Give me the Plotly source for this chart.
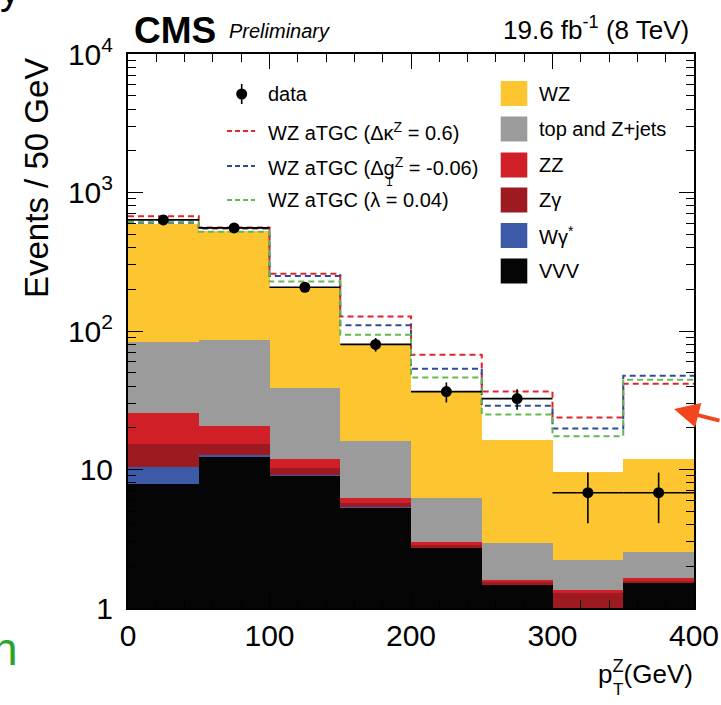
import plotly.graph_objects as go

# ---------------- data ----------------
bin_edges = [0, 50, 100, 150, 200, 250, 300, 350, 400]
bin_centers = [25, 75, 125, 175, 225, 275, 325, 375]

vvv = [7.9, 12.5, 9.1, 5.3, 2.74, 1.49, 0.8, 1.53]
wgamma_star = [2.5, 0.2, 0.1, 0.02, 0.01, 0.0, 0.0, 0.0]
zgamma = [4.8, 2.7, 1.1, 0.4, 0.08, 0.04, 0.49, 0.04]
zz = [10.5, 5.3, 1.6, 0.5, 0.18, 0.06, 0.05, 0.07]
top_zjets = [57.3, 65.1, 26.8, 9.9, 3.2, 1.36, 0.89, 0.91]
wz = [510, 444, 166, 65, 29.8, 13.5, 7.3, 9.45]

atgc_kappa = [675, 560, 259, 127, 67.5, 36.6, 23.7, 41.6]
atgc_g1 = [605, 550, 250, 110, 53.4, 28.8, 19.8, 47.5]
atgc_lambda = [615, 520, 228, 94, 46.2, 25.0, 17.4, 44.5]

data_vals = [634, 555, 207, 80, 36.5, 32.5, 6.8, 6.8]
data_err = [25, 24, 14, 9, 6, 5.5, 2.7, 2.7]

ytick_vals = [1, 10, 100, 1000, 10000]
ytick_text = ["1", "10", "10<sup>2</sup>", "10<sup>3</sup>", "10<sup>4</sup>"]
xtick_vals = [0, 100, 200, 300, 400]

# ---------------- styles ----------------
FONT = "Liberation Sans, Arial, Helvetica, sans-serif"
C_WZ = "#fdc52f"
C_TOP = "#9b9b9b"
C_ZZ = "#d01f27"
C_ZG = "#9c1a20"
C_WG = "#3c5aa8"
C_VVV = "#050505"
C_RED = "#e0252b"
C_BLUE = "#2d4b9a"
C_GREEN = "#63b94f"

W, H = 721, 705
ML, MR, MT, MB = 128, 27, 54, 97
PW = W - ML - MR
PH = H - MT - MB


def px(x):
    return (x - ML) / PW


def py(y):
    return (H - MB - y) / PH


fig = go.Figure()

stack = [
    ("VVV", vvv, C_VVV),
    ("Wγ*", wgamma_star, C_WG),
    ("Zγ", zgamma, C_ZG),
    ("ZZ", zz, C_ZZ),
    ("top and Z+jets", top_zjets, C_TOP),
    ("WZ", wz, C_WZ),
]
for name, vals, col in stack:
    fig.add_trace(go.Bar(
        x=bin_centers, y=vals, width=[50] * len(bin_centers), name=name,
        marker=dict(color=col, line=dict(width=0)), showlegend=False,
    ))

for vals, col in [(atgc_kappa, C_RED), (atgc_g1, C_BLUE), (atgc_lambda, C_GREEN)]:
    fig.add_trace(go.Scatter(
        x=bin_edges, y=vals + [vals[-1]], mode="lines", line_shape="hv",
        line=dict(color=col, width=2, dash="6px,4px"), showlegend=False,
    ))

fig.add_trace(go.Scatter(
    x=bin_centers, y=data_vals, mode="markers",
    marker=dict(color="black", size=11),
    error_y=dict(type="data", array=data_err, color="black", thickness=1.6, width=0),
    error_x=dict(type="constant", value=25, color="black", thickness=1.6, width=0),
    showlegend=False,
))

shapes = []
annotations = []


def text(x, y, t, size, xanchor="left", yanchor="middle", color="black", **kw):
    annotations.append(dict(x=px(x), y=py(y), xref="paper", yref="paper", text=t,
                            showarrow=False, xanchor=xanchor, yanchor=yanchor,
                            font=dict(family=FONT, size=size, color=color), **kw))


# ---------- legend (left column) ----------
text(266, 94, "data", 20)
shapes.append(dict(type="line", xref="paper", yref="paper", x0=px(241.7), x1=px(241.7),
                   y0=py(84), y1=py(104), line=dict(color="black", width=1.6)))
shapes.append(dict(type="circle", xref="paper", yref="paper", x0=px(236.2), x1=px(247.2),
                   y0=py(88.5), y1=py(99.5), fillcolor="black", line=dict(color="black", width=0)))

leg_lines = [
    (131, C_RED, "WZ aTGC (Δκ<sup>Z</sup> = 0.6)"),
    (166, C_BLUE, "WZ aTGC (Δg<sup>Z</sup> = -0.06)"),
    (200, C_GREEN, "WZ aTGC (λ = 0.04)"),
]
for yy, col, txt in leg_lines:
    shapes.append(dict(type="line", xref="paper", yref="paper", x0=px(227), x1=px(255),
                       y0=py(yy), y1=py(yy), line=dict(color=col, width=2, dash="5px,3px")))
    text(266, yy, txt, 20)
text(389, 182, "1", 12, xanchor="center")

# ---------- legend (right column) ----------
leg_boxes = [
    (81, C_WZ, "WZ"),
    (116.5, C_TOP, "top and Z+jets"),
    (152.5, C_ZZ, "ZZ"),
    (187.5, C_ZG, "Zγ"),
    (223, C_WG, "Wγ<sup>*</sup>"),
    (258.5, C_VVV, "VVV"),
]
for y0, col, txt in leg_boxes:
    shapes.append(dict(type="rect", xref="paper", yref="paper", x0=px(500.7), x1=px(527.3),
                       y0=py(y0), y1=py(y0 + 25), fillcolor=col, line=dict(width=0)))
    text(537, y0 + 12.5, txt, 20)

# ---------- header texts ----------
text(132, 30, "<b>CMS</b>", 37)
text(227, 31, "<i>Preliminary</i>", 20)
text(691, 28, "19.6 fb<sup>-1</sup> (8 TeV)", 26, xanchor="right")

# ---------- axis titles ----------
text(36, 56, "Events / 50 GeV", 33, xanchor="center", yanchor="top", textangle=-90)
text(695, 673, "p<sup>Z</sup>(GeV)", 26, xanchor="right")
text(618, 690, "T", 17, xanchor="center")

# ---------- extra page elements ----------
annotations.append(dict(x=px(674), y=py(409), xref="paper", yref="paper", text="",
                        showarrow=True, arrowhead=2, arrowsize=1.25, arrowwidth=4,
                        arrowcolor="#f4461d", ax=60, ay=12))
text(20, 649, "n", 46, xanchor="right", color="#2aa52a")
text(-2, -10, "y", 40)

fig.update_layout(
    width=W, height=H,
    margin=dict(l=ML, r=MR, t=MT, b=MB, pad=0, autoexpand=False),
    paper_bgcolor="white", plot_bgcolor="white",
    barmode="stack", bargap=0,
    showlegend=False,
    shapes=shapes, annotations=annotations,
    font=dict(family=FONT, color="black"),
)
fig.update_xaxes(
    range=[0, 400], tickvals=xtick_vals, ticks="inside", ticklen=15, tickwidth=1.3,
    tickcolor="black", showline=True, linecolor="black", linewidth=2, mirror="allticks",
    showgrid=False, zeroline=False, tickfont=dict(family=FONT, size=30, color="black"),
    ticklabelstandoff=0, automargin=False,
    minor=dict(ticks="inside", ticklen=8, tickwidth=1.3, tickcolor="black", dtick=20, showgrid=False),
)
minor_y = [m * 10 ** e for e in range(0, 4) for m in range(2, 10)]
fig.update_yaxes(
    type="log", range=[0, 4], tickvals=ytick_vals, ticktext=ytick_text,
    ticks="inside", ticklen=15, tickwidth=1.3, tickcolor="black",
    showline=True, linecolor="black", linewidth=2, mirror="allticks",
    showgrid=False, zeroline=False, tickfont=dict(family=FONT, size=30, color="black"),
    ticklabelstandoff=7, automargin=False,
    minor=dict(ticks="inside", ticklen=8, tickwidth=1.3, tickcolor="black",
               tickvals=minor_y, showgrid=False),
)

fig.write_html("out.html")
